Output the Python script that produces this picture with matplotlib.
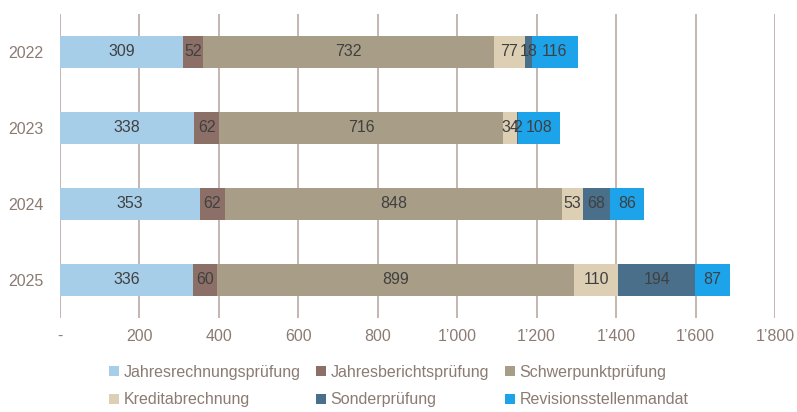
import matplotlib.pyplot as plt
from matplotlib import font_manager
import numpy as np

names = {f.name for f in font_manager.fontManager.ttflist}
fam = 'Liberation Sans Narrow' if 'Liberation Sans Narrow' in names else 'Liberation Sans'
plt.rcParams['font.family'] = [fam, 'DejaVu Sans']

years = ['2022', '2023', '2024', '2025']
series = ['Jahresrechnungsprüfung', 'Jahresberichtsprüfung', 'Schwerpunktprüfung',
          'Kreditabrechnung', 'Sonderprüfung', 'Revisionsstellenmandat']
jahresrechnung = [309, 338, 353, 336]
jahresbericht = [52, 62, 62, 60]
schwerpunkt = [732, 716, 848, 899]
kredit = [77, 34, 53, 110]
sonder = [18, 2, 68, 194]
revision = [116, 108, 86, 87]
values = [jahresrechnung, jahresbericht, schwerpunkt, kredit, sonder, revision]
colors = ['#A6CEE9', '#8C7068', '#A89D86', '#DCCFB3', '#4A6F8A', '#1DA3EA']

xticks = [0, 200, 400, 600, 800, 1000, 1200, 1400, 1600, 1800]

def fmt(v):
    if v == 0:
        return '-'
    return f'{v:,}'.replace(',', '\u2019')

fig = plt.figure(figsize=(7.97, 4.12), dpi=100)
ax = fig.add_axes([60 / 797, 1 - 318 / 412, 715 / 797, 304 / 412])

y = np.arange(len(years))
left = np.zeros(len(years))
handles = []
for name, vals, c in zip(series, values, colors):
    vals = np.array(vals, dtype=float)
    b = ax.barh(y, vals, left=left, height=0.41, color=c, label=name, zorder=3)
    handles.append(b)
    for yi, l, v in zip(y, left, vals):
        ax.text(l + v / 2, yi, str(int(v)), ha='center', va='center',
                fontsize=11.5, color='#404040', zorder=4)
    left += vals

ax.set_xlim(0, 1800)
ax.set_ylim(3.5, -0.5)
ax.set_yticks(y)
ax.set_yticklabels(years)
ax.set_xticks(xticks)
ax.set_xticklabels([fmt(v) for v in xticks])
ax.tick_params(axis='both', length=0, labelsize=11.5, labelcolor='#8B7B73')
ax.tick_params(axis='x', pad=8)
ax.tick_params(axis='y', pad=12)
for s in ax.spines.values():
    s.set_visible(False)
ax.grid(axis='x', color='#B9A9A5', linewidth=1.2, zorder=0)

order = [0, 3, 1, 4, 2, 5]
leg = fig.legend([handles[i] for i in order], [series[i] for i in order],
                 ncol=3, loc='lower left', bbox_to_anchor=(101 / 797, -0.008),
                 frameon=False, fontsize=11.5, handlelength=0.6, handleheight=0.6,
                 handletextpad=0.3, columnspacing=1.0, labelspacing=0.8,
                 borderaxespad=0.1)
for t in leg.get_texts():
    t.set_color('#8B7B73')

fig.savefig('out.png', dpi=100)
